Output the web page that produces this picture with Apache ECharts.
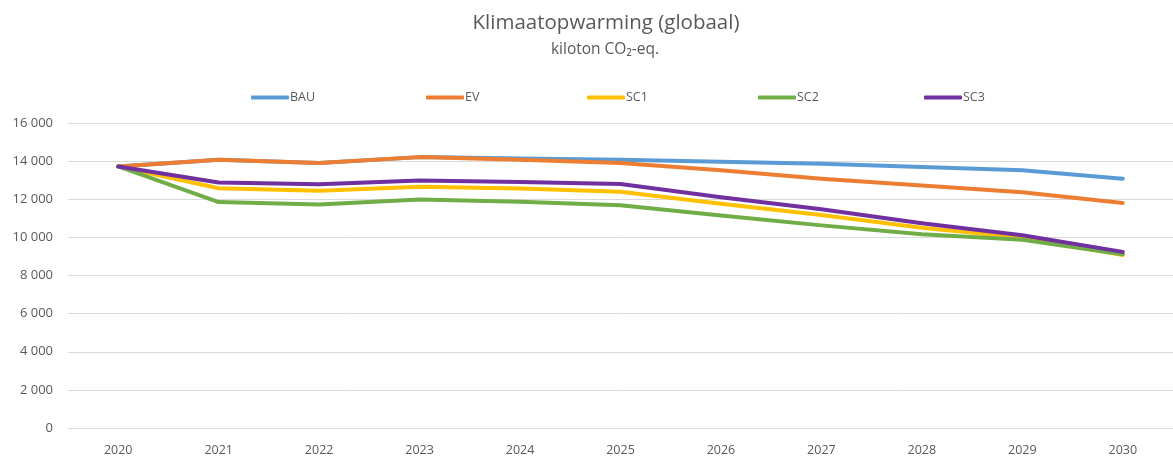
<!DOCTYPE html>
<html>
<head>
<meta charset="utf-8">
<title>Klimaatopwarming (globaal)</title>
<script src="https://cdn.jsdelivr.net/npm/echarts@6/dist/echarts.min.js"></script>
<style>
  html, body { margin: 0; padding: 0; background: #ffffff; }
  #chart { width: 1173px; height: 457px; }
</style>
</head>
<body>
<div id="chart"></div>
<script>
// Years on the horizontal axis
const years = ['2020', '2021', '2022', '2023', '2024', '2025', '2026', '2027', '2028', '2029', '2030'];

// Global warming impact per scenario, kiloton CO2-eq.
const bau = [13720, 14070, 13900, 14210, 14140, 14070, 13970, 13860, 13690, 13520, 13080];
const ev  = [13720, 14070, 13900, 14210, 14070, 13900, 13520, 13070, 12720, 12370, 11800];
const sc1 = [13720, 12580, 12440, 12650, 12560, 12390, 11760, 11170, 10510, 9990, 9080];
const sc2 = [13720, 11850, 11730, 11990, 11870, 11680, 11150, 10630, 10160, 9870, 9120];
const sc3 = [13720, 12880, 12790, 12990, 12910, 12800, 12110, 11470, 10740, 10110, 9240];

// Value axis ticks
const yMin = 0;
const yMax = 16000;
const yStep = 2000;

const seriesNames = ['BAU', 'EV', 'SC1', 'SC2', 'SC3'];
const seriesData = [bau, ev, sc1, sc2, sc3];
const seriesColors = ['#5B9BD5', '#ED7D31', '#FFC000', '#70AD47', '#7030A0'];
const legendLeft = [246, 421, 582, 753, 919];

const textColor = '#595959';
const fontFamily = '"Open Sans", "Noto Sans", sans-serif';

function groupThousands(v) {
  return String(v).replace(/\B(?=(\d{3})+(?!\d))/g, ' ');
}

const chart = echarts.init(document.getElementById('chart'), null, { renderer: 'canvas' });

chart.setOption({
  animation: false,
  backgroundColor: '#ffffff',
  title: [
    {
      text: 'Klimaatopwarming (globaal)',
      left: 601,
      top: 8,
      textAlign: 'center',
      textStyle: { color: textColor, fontFamily: fontFamily, fontWeight: 'normal', fontSize: 20.5 }
    },
    {
      text: 'kiloton CO₂-eq.',
      left: 600,
      top: 37,
      textAlign: 'center',
      textStyle: { color: textColor, fontFamily: fontFamily, fontWeight: 'normal', fontSize: 15.5 }
    }
  ],
  legend: seriesNames.map((name, i) => ({
    data: [name],
    left: legendLeft[i],
    top: 86,
    icon: 'roundRect',
    itemWidth: 38,
    itemHeight: 4,
    itemGap: 2,
    textStyle: { color: textColor, fontFamily: fontFamily, fontSize: 12.5, padding: [0, 0, 0, -4] }
  })),
  grid: { left: 68, right: -9, top: 123, bottom: 27, containLabel: false },
  xAxis: {
    type: 'category',
    data: years,
    boundaryGap: true,
    axisLine: { show: true, lineStyle: { color: '#D9D9D9', width: 1 } },
    axisTick: { show: false },
    axisLabel: { color: textColor, fontFamily: fontFamily, fontSize: 12.5, margin: 16 }
  },
  yAxis: {
    type: 'value',
    min: yMin,
    max: yMax,
    interval: yStep,
    axisLine: { show: false },
    axisTick: { show: false },
    splitLine: { show: true, lineStyle: { color: '#D9D9D9', width: 1 } },
    axisLabel: {
      color: textColor,
      fontFamily: fontFamily,
      fontSize: 13,
      margin: 15,
      formatter: groupThousands
    }
  },
  series: seriesNames.map((name, i) => ({
    name: name,
    type: 'line',
    data: seriesData[i],
    symbol: 'none',
    smooth: false,
    color: seriesColors[i],
    lineStyle: { width: 4, color: seriesColors[i], cap: 'round', join: 'round' },
    z: 2 + i
  }))
});
</script>
</body>
</html>
